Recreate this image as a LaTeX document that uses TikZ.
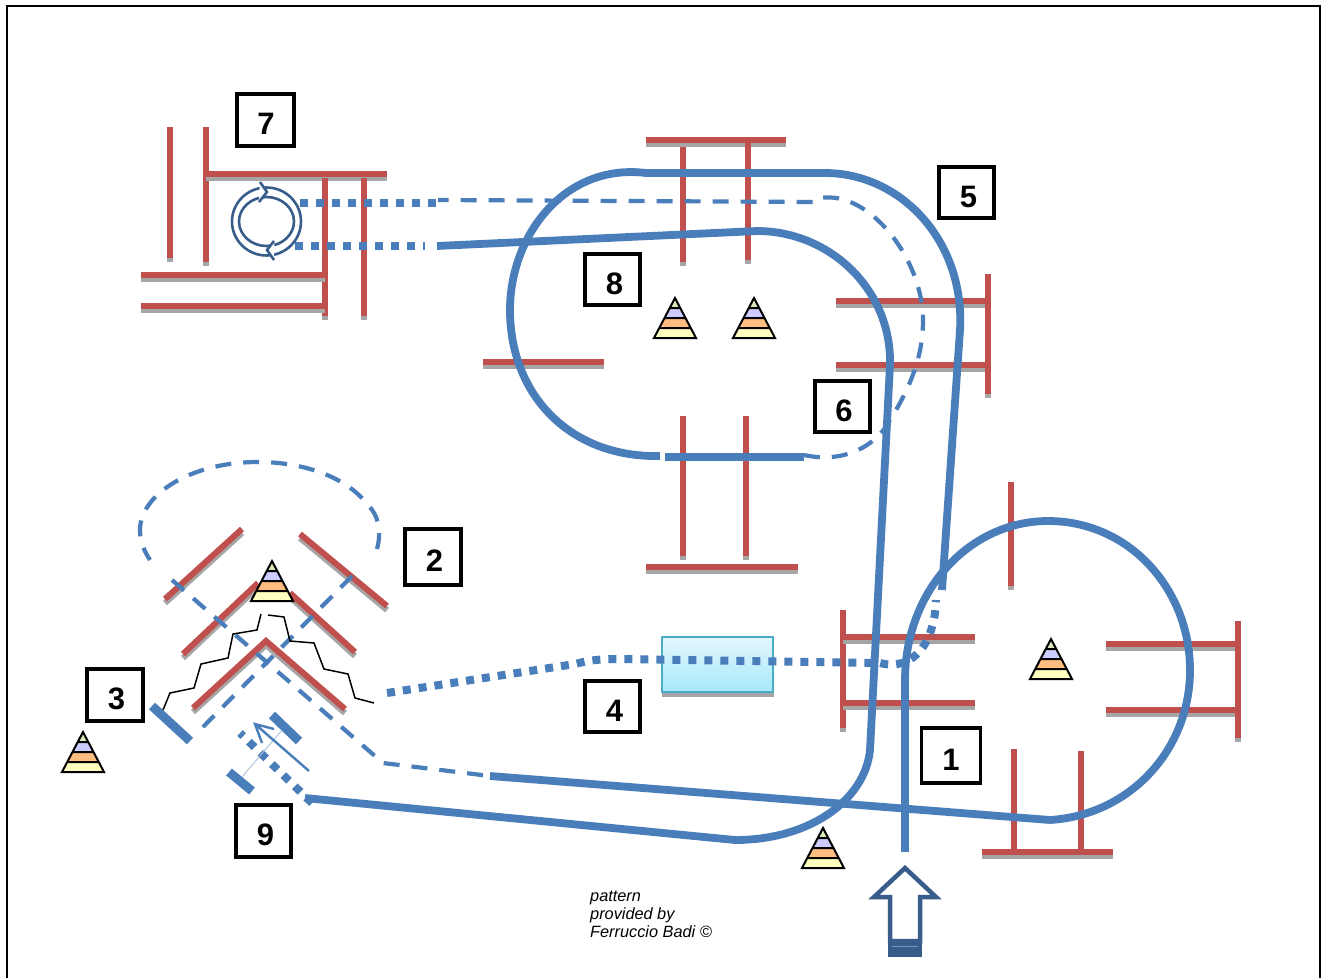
\documentclass[tikz,border=0pt]{standalone}
\usepackage{fontspec}
\setmainfont{Liberation Sans}
\definecolor{wallred}{HTML}{C0504D}
\definecolor{wallshadow}{HTML}{A6A6A6}
\definecolor{flow}{HTML}{4A7EBB}
\definecolor{navy}{HTML}{385D8A}
\definecolor{yellowlayer}{HTML}{FFFFC0}
\definecolor{orangelayer}{HTML}{FFBE80}
\definecolor{lavlayer}{HTML}{CCCCFF}
\definecolor{greenlayer}{HTML}{D8E8B8}
\definecolor{tanktop}{HTML}{E4F8FD}
\definecolor{tankbot}{HTML}{A6E8FB}
\definecolor{tankedge}{HTML}{4BACC6}
\tikzset{
  x=1pt,y=-1pt,
  numbox/.style={draw=black,line width=3.8pt,fill=white,inner sep=0pt,font=\bfseries\fontsize{31}{31}\selectfont,anchor=center},
  thick flow/.style={draw=flow,line width=7.8pt},
  mid flow/.style={draw=flow,line width=4.2pt,dash pattern=on 16pt off 12pt},
  dot flow/.style={draw=flow,line width=8pt,dash pattern=on 8pt off 8pt},
  bar flow/.style={draw=flow,line width=9pt},
  tri/.pic={
    \fill[fill=yellowlayer] (-21,40)--(21,40)--(15.75,30)--(-15.75,30)--cycle;
    \fill[fill=orangelayer] (-15.75,30)--(15.75,30)--(10.5,20)--(-10.5,20)--cycle;
    \fill[fill=lavlayer] (-10.5,20)--(10.5,20)--(5.25,10)--(-5.25,10)--cycle;
    \fill[fill=greenlayer] (-5.25,10)--(5.25,10)--(0,0)--cycle;
    \draw[black,line width=2pt,line join=miter] (-21,40)--(0,0)--(21,40)--cycle
      (-15.75,30)--(15.75,30) (-10.5,20)--(10.5,20) (-5.25,10)--(5.25,10);
  }
}
\newcommand{\W}[4]{\draw[wallshadow,line width=6pt] (#1,#2+4)--(#3,#4+4);}
\newcommand{\R}[4]{\draw[wallred,line width=6pt] (#1,#2)--(#3,#4);}
\newcommand{\WR}[4]{\W{#1}{#2}{#3}{#4}\R{#1}{#2}{#3}{#4}}
\newcommand{\num}[1]{\raisebox{-14.5pt}[0pt][0pt]{#1}}
\begin{document}
\begin{tikzpicture}
\useasboundingbox (0,0) rectangle (1327,978);
\fill[white] (0,0) rectangle (1327,978);
\draw[black,line width=2.4pt] (7,978)--(7,6)--(1320,6)--(1320,978);

% walls: top left
\WR{170}{127}{170}{258}
\WR{206}{127}{206}{262}
\WR{206}{174}{387}{174}
\WR{325}{178}{325}{316}
\WR{364}{178}{364}{316}
\WR{141}{275}{325}{275}
\WR{141}{306}{325}{306}
% centre
\WR{646}{140}{786}{140}
\WR{683}{147}{683}{262}
\WR{748}{143}{748}{260}
\WR{836}{301}{988}{301}
\WR{836}{365}{988}{365}
\WR{988}{274}{988}{394}
\WR{483}{362}{604}{362}
\WR{683}{416}{683}{556}
\WR{746}{416}{746}{556}
\WR{646}{567}{798}{567}
% right
\WR{843}{610}{843}{728}
\WR{843}{637}{975}{637}
\WR{843}{703}{975}{703}
\WR{1011}{482}{1011}{586}
\WR{1106}{644}{1238}{644}
\WR{1106}{710}{1238}{710}
\WR{1238}{621}{1238}{738}
\R{1014}{749}{1014}{855}
\R{1081}{751}{1081}{851}
\WR{982}{852}{1113}{852}
% chevrons
\WR{165}{599}{242}{529}
\WR{300}{534}{387}{606}
\WR{183}{654}{258}{583}
\WR{290}{593}{355}{652}
\draw[wallshadow,line width=6pt] (193,712)--(266,645)--(345,713);
\draw[wallred,line width=6pt] (193,708)--(266,641)--(345,709);

% storage
\fill[wallshadow] (662,692) rectangle (774,697);
\node[draw=tankedge,line width=2pt,inner sep=0pt,minimum width=111pt,minimum height=55pt,top color=tanktop,bottom color=tankbot] (tank) at (717.5,664.5) {};

% thick flow
\draw[thick flow] (1050,820) .. controls (1130,815) and (1190,750) .. (1190,670)
  .. controls (1190,590) and (1130,521) .. (1048,521)
  .. controls (970,521) and (905,590) .. (905,680);
\draw[thick flow] (905,678)--(905,852);
\draw[thick flow] (942,590)--(960,330) .. controls (965,240) and (900,173) .. (825,173)--(646,173)
  .. controls (565,163) and (510,235) .. (510,310)
  .. controls (510,395) and (570,458) .. (660,456);
\draw[thick flow] (665,457)--(804,457);
\draw[thick flow] (437,246)--(757,231) .. controls (830,231) and (892,290) .. (890,365)
  --(870,750) .. controls (865,800) and (810,840) .. (735,840)--(305,798);
\draw[thick flow] (490,776)--(1050,820);

% dashed
\draw[mid flow] (203,727)--(352,576);
\draw[mid flow] (377,549) .. controls (382,530) and (378,515) .. (368,505)
  .. controls (345,475) and (300,462) .. (258,462)
  .. controls (190,462) and (140,495) .. (140,530)
  .. controls (140,543) and (145,552) .. (150,560);
\draw[mid flow] (172,580)--(383,763)--(490,776);
\draw[mid flow] (804,455) .. controls (850,465) and (880,440) .. (890,420)
  .. controls (915,380) and (923,350) .. (923,320)
  .. controls (923,260) and (870,190) .. (820,198)--(815,202)--(438,200);

% dotted
\draw[dot flow] (436,203)--(295,203);
\draw[dot flow] (295,246)--(425,246);
\draw[dot flow] (387,693)--(575,664) .. controls (590,660) and (600,659) .. (620,659)--(880,663)
  .. controls (915,672) and (935,640) .. (936,600);
\draw[dot flow] (312,803)--(240,733);

% bars and valve
\draw[bar flow] (152,706)--(190,741);
\draw[bar flow] (272,715)--(299,741);
\draw[bar flow] (229,772)--(252,791);
\draw[flow!50!white,line width=0.8pt] (282,730)--(242,777);
\draw[flow,line width=2.4pt] (309,771)--(255,724) (262,743)--(255,724)--(274,729);

% zigzags
\draw[black,line width=1.5pt] (163,710)--(170,693)--(194,688)--(201,664)--(228,658)--(233,634)--(257,630)--(261,614);
\draw[black,line width=1.5pt] (268,615)--(284,617)--(290,641)--(314,643)--(324,669)--(348,674)--(355,698)--(374,703);

% triangles
\pic at (272,561) {tri};
\pic at (83,732) {tri};
\pic at (823,828) {tri};
\pic at (675,298) {tri};
\pic at (754,298) {tri};
\pic at (1051,639) {tri};

% recycle
\draw[navy,line width=2.6pt] (266.5,221.5) ellipse [x radius=34.5,y radius=34];
\draw[navy,line width=2.6pt] (266.5,221.5) ellipse [x radius=27.5,y radius=24.5];
\fill[white] (260,182)--(267,192)--(259,202)--cycle;
\draw[navy,line width=2.6pt,line join=miter] (260,182)--(267,192)--(259,202);
\fill[white] (274,260)--(267,250)--(274,241)--cycle;
\draw[navy,line width=2.6pt,line join=miter] (274,260)--(267,250)--(274,241);

% big arrow
\draw[navy,line width=4.5pt,line join=miter,fill=white] (905,868)--(936,897)--(920,897)--(920,941)--(890,941)--(890,897)--(874,897)--cycle;
\fill[navy] (888,939) rectangle (922,957);
\draw[flow!80!white,line width=0.5pt] (892,946)--(918,946);

% boxes
\node[numbox,minimum width=56.5pt,minimum height=52.5pt] (n7) at (265.5,120) {\hspace*{1pt}\num{7}};
\node[numbox,minimum width=55pt,minimum height=51.5pt] (n5) at (966.5,192.5) {\hspace*{4pt}\num{5}};
\node[numbox,minimum width=55pt,minimum height=51.5pt] (n8) at (612.5,279.5) {\hspace*{4pt}\num{8}};
\node[numbox,minimum width=55pt,minimum height=51.5pt] (n6) at (842.5,406.5) {\hspace*{3pt}\num{6}};
\node[numbox,minimum width=56pt,minimum height=56pt] (n2) at (433,557) {\hspace*{3pt}\num{2}};
\node[numbox,minimum width=56pt,minimum height=52pt] (n3) at (115,695) {\hspace*{3pt}\num{3}};
\node[numbox,minimum width=55pt,minimum height=51.5pt] (n4) at (612.5,706.5) {\hspace*{4pt}\num{4}};
\node[numbox,minimum width=59pt,minimum height=55pt] (n1) at (951,755.5) {\num{1}};
\node[numbox,minimum width=55pt,minimum height=52pt] (n9) at (263.5,831) {\hspace*{4pt}\num{9}};

% credit
\node[anchor=north west,align=left,inner sep=0pt,font=\itshape\fontsize{16.3}{18}\selectfont] (credit) at (590,890.5) {pattern\\provided by\\Ferruccio Badi ©};
\end{tikzpicture}
\end{document}
